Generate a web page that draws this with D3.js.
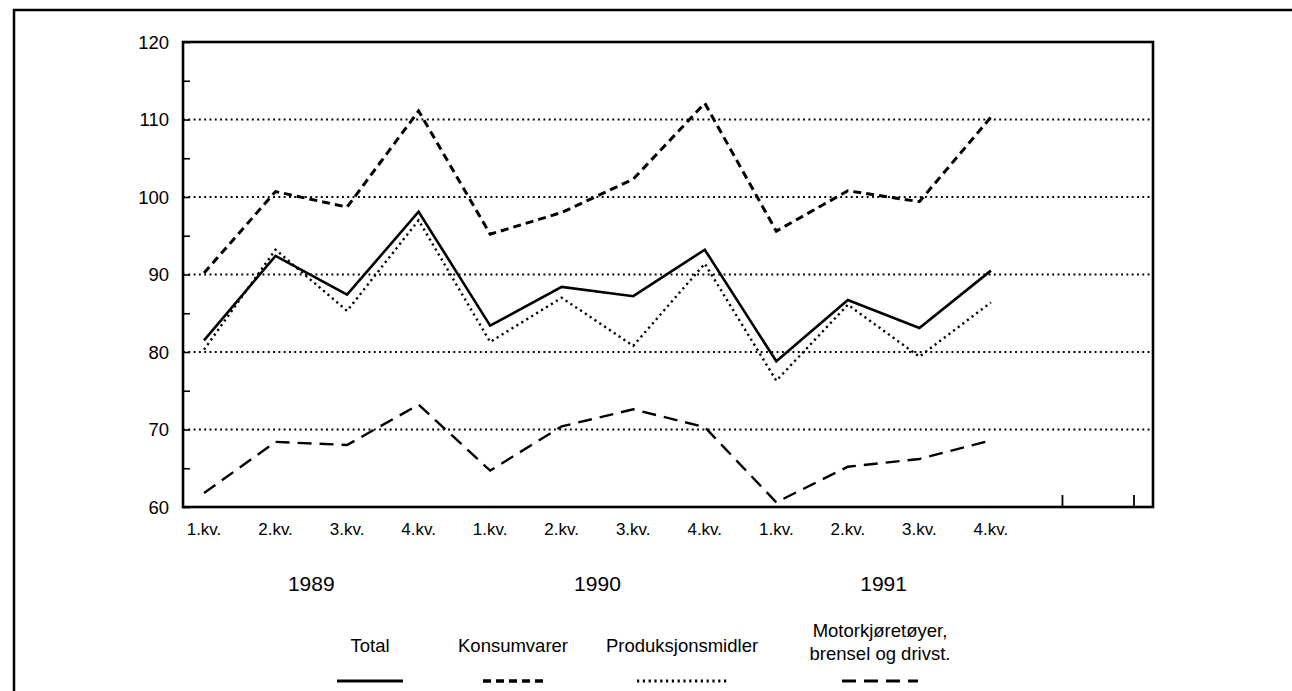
<!DOCTYPE html>
<html>
<head>
<meta charset="utf-8">
<script src="https://cdn.jsdelivr.net/npm/d3@7"></script>
<style>
  body { margin: 0; background: #fff; }
  svg { display: block; font-family: "Liberation Sans", Arial, sans-serif; }
</style>
</head>
<body>
<svg></svg>
<script>
const size = {w: 1292, h: 691};
const plot = {l: 183, t: 42, r: 1153, b: 507};

// data
const quarters = ['1.kv.', '2.kv.', '3.kv.', '4.kv.', '1.kv.', '2.kv.', '3.kv.', '4.kv.', '1.kv.', '2.kv.', '3.kv.', '4.kv.'];
const years = ['1989', '1990', '1991'];
const total = [81.5, 92.4, 87.4, 98.1, 83.4, 88.4, 87.2, 93.2, 78.8, 86.7, 83.1, 90.5];
const konsumvarer = [90.2, 100.7, 98.7, 111.1, 95.2, 98.0, 102.3, 112.1, 95.6, 100.8, 99.4, 110.3];
const produksjonsmidler = [80.3, 93.2, 85.3, 97.0, 81.3, 87.0, 80.8, 91.4, 76.3, 86.1, 79.4, 86.4];
const motorkjoretoyer = [61.8, 68.4, 68.0, 73.2, 64.7, 70.4, 72.6, 70.3, 60.6, 65.2, 66.2, 68.6];
const yTicks = [60, 70, 80, 90, 100, 110, 120];
const seriesNames = ['Total', 'Konsumvarer', 'Produksjonsmidler', ['Motorkjøretøyer,', 'brensel og drivst.']];

const series = [
    {name: seriesNames[0], values: total, dash: null, width: 2.6},
    {name: seriesNames[1], values: konsumvarer, dash: '8,5', width: 3},
    {name: seriesNames[2], values: produksjonsmidler, dash: '2.2,3.6', width: 2.4},
    {name: seriesNames[3], values: motorkjoretoyer, dash: '14,8', width: 2.4}
];

const svg = d3.select('svg')
    .attr('width', size.w)
    .attr('height', size.h);

// outer frame (runs off the right and bottom edge)
svg.append('rect')
    .attr('x', 14).attr('y', 10)
    .attr('width', 1300).attr('height', 700)
    .attr('fill', 'none')
    .attr('stroke', '#000')
    .attr('stroke-width', 2.5);

// 14 slots, 12 used
const slots = d3.range(14);
const scaleX = d3.scalePoint()
    .domain(slots)
    .range([204, 1134]);

const scaleY = d3.scaleLinear()
    .domain([60, 120])
    .range([plot.b, plot.t]);

// gridlines
svg.append('g').selectAll('line')
    .data(yTicks.filter(d => d > 60 && d < 120))
    .join('line')
    .attr('x1', plot.l).attr('x2', plot.r)
    .attr('y1', d => scaleY(d)).attr('y2', d => scaleY(d))
    .attr('stroke', '#000')
    .attr('stroke-width', 1.9)
    .attr('stroke-dasharray', '1.9,3.4');

// y axis with inward ticks
let axisY = d3.axisRight(scaleY)
    .tickValues(d3.range(60, 121, 5))
    .tickSize(7)
    .tickSizeOuter(0)
    .tickFormat('');
svg.append('g')
    .attr('transform', `translate(${plot.l},0)`)
    .call(axisY)
    .call(g => g.select('.domain').remove())
    .call(g => g.selectAll('line').attr('stroke', '#000').attr('stroke-width', 1.6));

svg.append('g').selectAll('text')
    .data(yTicks)
    .join('text')
    .attr('x', 169)
    .attr('y', d => scaleY(d) + 6.5)
    .attr('text-anchor', 'end')
    .attr('font-size', 18.5)
    .attr('fill', '#000')
    .text(d => d);

// x axis ticks on the empty slots
svg.append('g').selectAll('line')
    .data(slots.filter(i => i >= quarters.length))
    .join('line')
    .attr('x1', d => scaleX(d)).attr('x2', d => scaleX(d))
    .attr('y1', plot.b).attr('y2', plot.b - 12)
    .attr('stroke', '#000')
    .attr('stroke-width', 1.8);

svg.append('g').selectAll('text')
    .data(quarters)
    .join('text')
    .attr('x', (d, i) => scaleX(i))
    .attr('y', 535)
    .attr('text-anchor', 'middle')
    .attr('font-size', 17)
    .attr('fill', '#000')
    .text(d => d);

svg.append('g').selectAll('text')
    .data(years)
    .join('text')
    .attr('x', (d, i) => (scaleX(i * 4 + 1) + scaleX(i * 4 + 2)) / 2)
    .attr('y', 591)
    .attr('text-anchor', 'middle')
    .attr('font-size', 21)
    .attr('fill', '#000')
    .text(d => d);

// plot frame
svg.append('rect')
    .attr('x', plot.l).attr('y', plot.t)
    .attr('width', plot.r - plot.l).attr('height', plot.b - plot.t)
    .attr('fill', 'none')
    .attr('stroke', '#000')
    .attr('stroke-width', 2.6);

// lines
let line = d3.line()
    .x((d, i) => scaleX(i))
    .y(d => scaleY(d));

svg.append('g').selectAll('path')
    .data(series)
    .join('path')
    .attr('d', d => line(d.values))
    .attr('fill', 'none')
    .attr('stroke', '#000')
    .attr('stroke-width', d => d.width)
    .attr('stroke-dasharray', d => d.dash)
    .attr('stroke-linejoin', 'miter');

// legend
const legendX = [370, 513, 682, 880];
let legend = svg.append('g').selectAll('g')
    .data(series)
    .join('g')
    .attr('transform', (d, i) => `translate(${legendX[i]},0)`);

legend.append('text')
    .attr('text-anchor', 'middle')
    .attr('font-size', 18.5)
    .attr('fill', '#000')
    .each(function(d){
        let names = Array.isArray(d.name) ? d.name : [d.name];
        let y0 = names.length > 1 ? 637 : 652;
        d3.select(this).selectAll('tspan')
            .data(names)
            .join('tspan')
            .attr('x', 0)
            .attr('y', (n, j) => y0 + j * 23)
            .text(n => n);
    });

const legendW = [66, 60, 90, 76];
legend.append('line')
    .attr('x1', (d, i) => -legendW[i] / 2)
    .attr('x2', (d, i) => legendW[i] / 2)
    .attr('y1', 681).attr('y2', 681)
    .attr('stroke', '#000')
    .attr('stroke-width', d => d.width + 0.6)
    .attr('stroke-dasharray', d => d.dash);
</script>
</body>
</html>
